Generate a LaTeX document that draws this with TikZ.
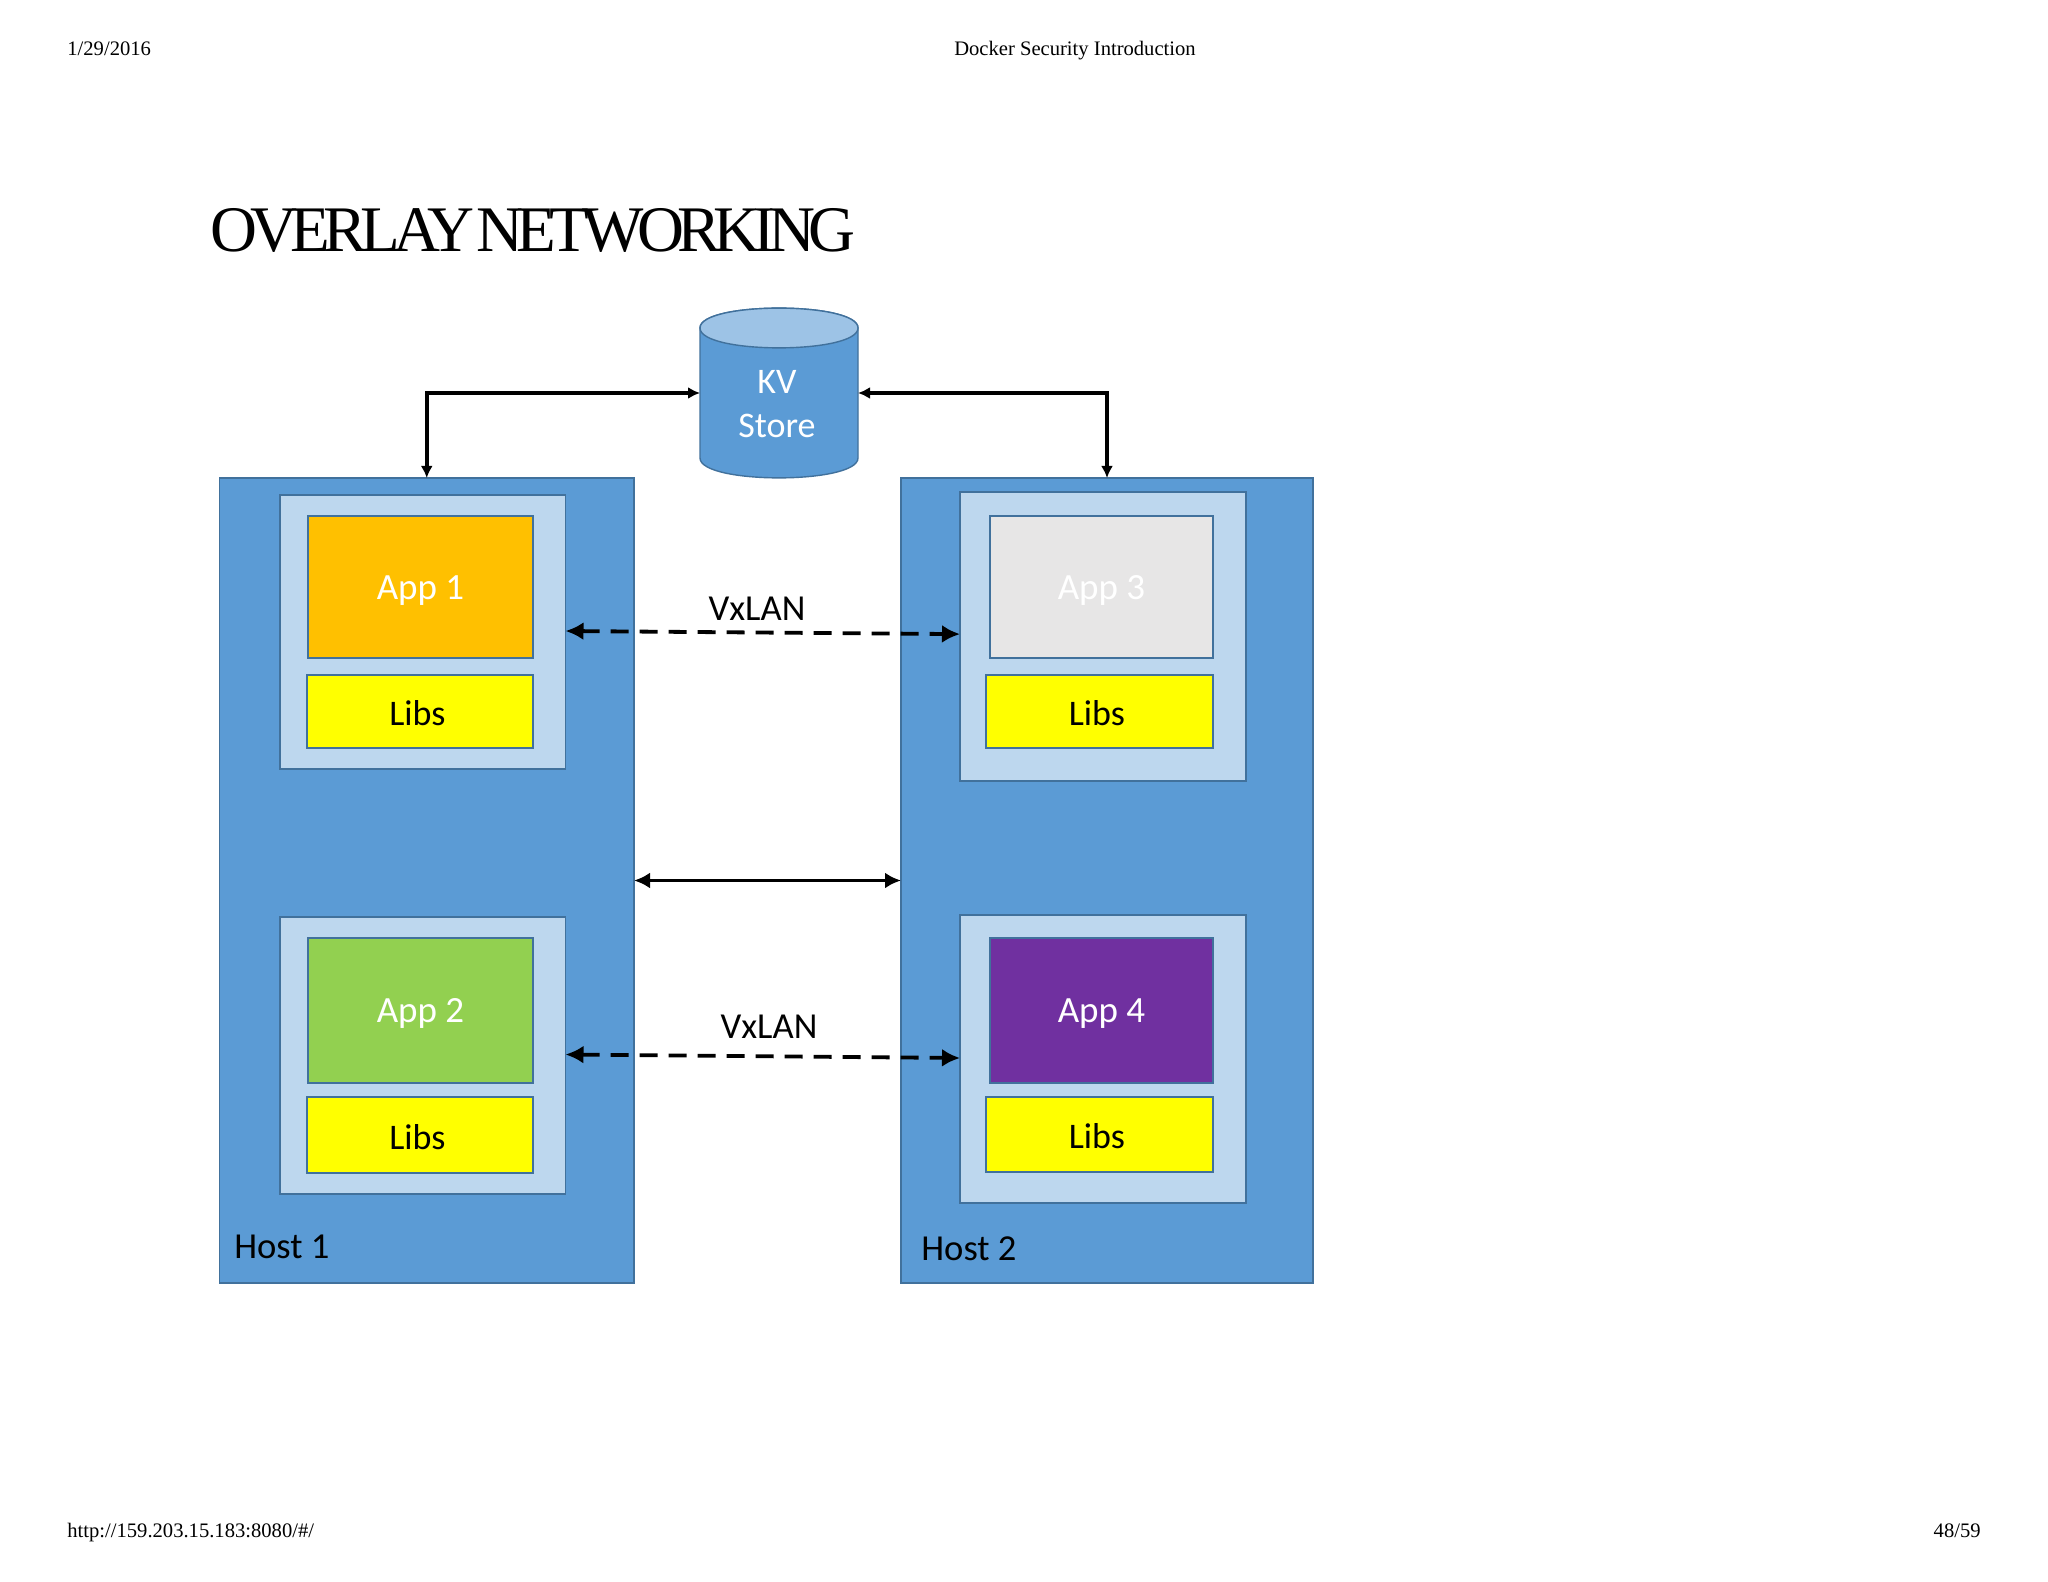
\documentclass[tikz,border=0pt]{standalone}
\usepackage{fontspec}
\setmainfont{Liberation Serif}
\newfontfamily\diagfont{Carlito}
\newfontfamily\titlefont[LetterSpace=-10.4,WordSpace=0.2]{Liberation Serif}
\usetikzlibrary{arrows.meta}
\definecolor{hostblue}{HTML}{5B9BD5}
\definecolor{contblue}{HTML}{BDD7EE}
\definecolor{edgeblue}{HTML}{41719C}
\definecolor{topblue}{HTML}{9DC3E6}
\definecolor{appone}{HTML}{FFC000}
\definecolor{apptwo}{HTML}{92D050}
\definecolor{appthree}{HTML}{E7E6E6}
\definecolor{appfour}{HTML}{7030A0}
\definecolor{libsyellow}{HTML}{FFFF00}
\tikzset{
  x=0.5pt,y=-0.5pt,
  box/.style={draw=edgeblue,line width=0.7pt,inner sep=0pt,outer sep=0pt},
  hostbox/.style={box,fill=hostblue},
  contbox/.style={box,fill=contblue},
  appbox/.style={box,font=\diagfont\fontsize{18.5}{22}\selectfont,text=white,text height=12pt,text depth=0pt},
  libsbox/.style={box,fill=libsyellow,font=\diagfont\fontsize{18}{22}\selectfont,text=black,text height=14pt,text depth=0pt},
  lbl/.style={font=\diagfont\fontsize{18.3}{22}\selectfont,text=black,inner sep=0pt},
  hdr/.style={font=\fontsize{10.3}{12}\selectfont,inner sep=0pt,text=black},
  link/.style={draw=black,line width=1.9pt,{Latex[length=6pt,width=6pt]}-{Latex[length=6pt,width=6pt]}},
  biglink/.style={draw=black,line width=1.9pt,{Latex[length=8pt,width=8pt]}-{Latex[length=8pt,width=8pt]}},
  dashlink/.style={draw=black,line width=1.9pt,{Latex[length=9pt,width=9pt]}-{Latex[length=9pt,width=9pt]},dash pattern=on 9pt off 5.5pt},
}
\newcommand{\rectnode}[7]{% style,name,x1,y1,x2,y2,text
  \node[#1,minimum width=#5*0.5pt-#3*0.5pt,minimum height=#6*0.5pt-#4*0.5pt,anchor=center] (#2) at ({(#3+#5)/2},{(#4+#6)/2}) {#7};}
\newcommand{\libstext}{Libs\kern2.6pt}
\begin{document}
\begin{tikzpicture}
\useasboundingbox (0,0) rectangle (2048,1582);
\fill[white] (0,0) rectangle (2048,1582);
\node[hdr,anchor=base west] (date) at (67,56) {1/29/2016};
\node[hdr,anchor=base] (head) at (1075,56) {Docker Security Introduction};
\node[hdr,anchor=base west] (url) at (67,1537) {http://159.203.15.183:8080/\#/};
\node[hdr,anchor=base east] (page) at (1981,1537) {48/59};
\node[anchor=base west,inner sep=0pt,font=\titlefont\fontsize{32.5}{36}\selectfont] (title) at (210,252) {OVERLAY NETWORKING};
%
\rectnode{hostbox}{hostA}{219.5}{478}{634}{1283}{}
\rectnode{hostbox}{hostB}{901}{478}{1313}{1283}{}
\rectnode{contbox}{contA}{280}{495}{565.5}{769}{}
\rectnode{contbox}{contB}{280}{917}{565.5}{1194}{}
\rectnode{contbox}{contC}{960}{492}{1246}{781}{}
\rectnode{contbox}{contD}{960}{915}{1246}{1203}{}
\rectnode{appbox,fill=appone}{appA}{308}{516}{533}{658}{App 1}
\rectnode{appbox,fill=apptwo}{appB}{308}{938}{533}{1083}{App 2}
\rectnode{appbox,fill=appthree}{appC}{990}{516}{1213}{658}{App 3}
\rectnode{appbox,fill=appfour}{appD}{990}{938}{1213}{1083}{App 4}
\rectnode{libsbox}{libsA}{307}{675}{533}{748}{\libstext}
\rectnode{libsbox}{libsB}{307}{1097}{533}{1173}{\libstext}
\rectnode{libsbox}{libsC}{986}{675}{1213}{748}{\libstext}
\rectnode{libsbox}{libsD}{986}{1097}{1213}{1172}{\libstext}
\node[lbl,anchor=west] (hostAl) at (234,1247) {Host 1};
\node[lbl,anchor=west] (hostBl) at (921,1249) {Host 2};
%
\node[inner sep=0pt,outer sep=0pt,minimum width=79pt,minimum height=85pt] (kv) at (779,393) {};
\fill[hostblue,draw=edgeblue,line width=0.7pt]
  (700,328) .. controls (700,301.5) and (858,301.5) .. (858,328)
  -- (858,458) .. controls (858,484.5) and (700,484.5) .. (700,458) -- cycle;
\fill[topblue,draw=edgeblue,line width=0.7pt]
  (700,328) .. controls (700,301.5) and (858,301.5) .. (858,328)
  .. controls (858,354.5) and (700,354.5) .. (700,328) -- cycle;
\node[font=\diagfont\fontsize{18}{21.8}\selectfont,text=white,align=center,inner sep=0pt] (kvt) at (777,404) {KV\\Store};
%
\draw[link] (hostA.north) |- (kv.west);
\draw[link] (hostB.north) |- (kv.east);
\draw[biglink] (hostA.east) -- (hostB.west);
\draw[dashlink] ([yshift=0.5pt]contA.east) -- ([yshift=1.2pt]contC.west);
\draw[dashlink] ([yshift=0.5pt]contB.east) -- ([yshift=0.5pt]contD.west);
\node[lbl] (vxA) at (757,609) {VxLAN};
\node[lbl] (vxB) at (769,1027) {VxLAN};
\end{tikzpicture}
\end{document}
